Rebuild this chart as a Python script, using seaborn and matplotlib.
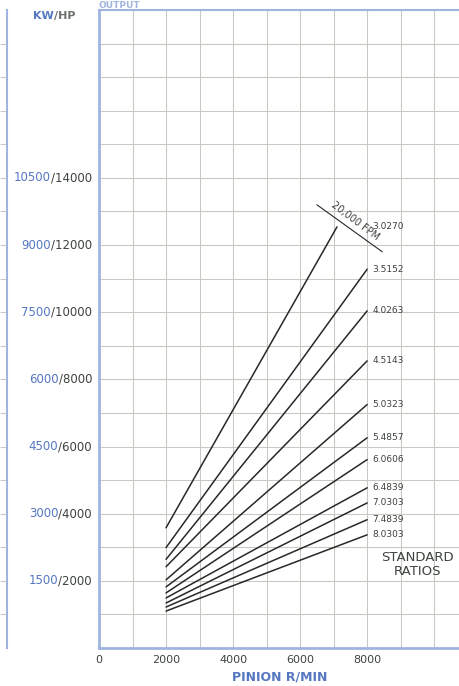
import numpy as np
import pandas as pd
import matplotlib
matplotlib.use('Agg')
import matplotlib.pyplot as plt
import seaborn as sns

# ratio lines (pinion r/min vs HP)
ratios = ['3.0270', '3.5152', '4.0263', '4.5143', '5.0323', '5.4857',
          '6.0606', '6.4839', '7.0303', '7.4839', '8.0303']
rpm_start = [2000, 2000, 2000, 2000, 2000, 2000, 2000, 2000, 2000, 2000, 2000]
rpm_end = [7100, 8000, 8000, 8000, 8000, 8000, 8000, 8000, 8000, 8000, 8000]
hp_start = [3580, 2990, 2640, 2420, 2030, 1820, 1640, 1490, 1340, 1220, 1100]
hp_end = [12540, 11280, 10040, 8550, 7250, 6260, 5610, 4770, 4320, 3820, 3370]

# 20,000 FPM limit segment
fpm_rpm = [6500, 8450]
fpm_hp = [13200, 11800]

# y axis labels (KW / HP)
kw_labels = ['1500', '3000', '4500', '6000', '7500', '9000', '10500']
hp_labels = ['2000', '4000', '6000', '8000', '10000', '12000', '14000']
hp_ticks = [2000, 4000, 6000, 8000, 10000, 12000, 14000]
x_labels = ['0', '2000', '4000', '6000', '8000']

blue = '#5577c2'
gray = '#3d433d'
line_color = '#262a26'
grid_color = '#c6cac0'
spine_blue = '#9fb4de'

sns.set_style('white')
plt.rcParams['font.family'] = ['DejaVu Sans']

rows = []
for r, x0, x1, y0, y1 in zip(ratios, rpm_start, rpm_end, hp_start, hp_end):
    rows.append({'ratio': r, 'rpm': x0, 'hp': y0})
    rows.append({'ratio': r, 'rpm': x1, 'hp': y1})
df = pd.DataFrame(rows)

fig = plt.figure(figsize=(4.6, 6.86), dpi=100)
ax = fig.add_axes([99/460, 38/686, 362/460, 638/686])

sns.lineplot(data=df, x='rpm', y='hp', hue='ratio', palette=[line_color]*len(ratios),
             legend=False, ax=ax, lw=1.1, estimator=None, sort=True)

ax.set_xlim(0, 10800)
ax.set_ylim(0, 19000)
ax.set_xticks(np.arange(0, 11000, 1000))
ax.set_xticklabels([str(v) if str(v) in x_labels else '' for v in range(0, 11000, 1000)])
ax.set_yticks(np.arange(0, 19001, 1000))
ax.set_yticklabels([])
ax.grid(True, color=grid_color, lw=0.75)
ax.tick_params(length=0, labelsize=8, labelcolor=gray)
ax.tick_params(axis='x', pad=5)
ax.set_ylabel('')
ax.set_xlabel('PINION R/MIN', color=blue, fontweight='bold', fontsize=9)
ax.xaxis.set_label_coords(0.5, -0.036)
for s in ['left', 'bottom']:
    ax.spines[s].set_color(spine_blue)
    ax.spines[s].set_linewidth(2)
ax.spines['top'].set_color(spine_blue)
ax.spines['top'].set_linewidth(1.5)
ax.spines['right'].set_visible(False)

# two colour y tick labels
for yv, kw, hp in zip(hp_ticks, kw_labels, hp_labels):
    t = ax.annotate('/' + hp, xy=(0, yv), xycoords=('axes fraction', 'data'),
                    xytext=(-5, 0), textcoords='offset points',
                    ha='right', va='center', fontsize=8.5, color=gray)
    ax.annotate(kw, xy=(0, 0.5), xycoords=t, ha='right', va='center',
                fontsize=8.5, color=blue)

# ratio labels
for r, y1 in zip(ratios, hp_end):
    ax.annotate(r, xy=(8000, y1), xytext=(4, 0), textcoords='offset points',
                ha='left', va='center', fontsize=6.5, color=gray)

ax.plot(fpm_rpm, fpm_hp, color=line_color, lw=0.8)
ax.annotate('20,000 FPM', xy=(np.mean(fpm_rpm), np.mean(fpm_hp)), xytext=(2, 2),
            textcoords='offset points', rotation=-37, rotation_mode='anchor',
            ha='center', va='bottom', fontsize=7, color=gray)

ax.text(9500, 2480, 'STANDARD\nRATIOS', ha='center', va='center',
        fontsize=9.5, linespacing=1.05, color=gray)

# KW/HP header
t = fig.text(54/460, 1 - 16/686, '/HP', ha='left', va='center',
             fontsize=8, fontweight='bold', color='#6a706a')
plt.annotate('KW', xy=(0, 0.5), xycoords=t, ha='right', va='center',
             fontsize=8, fontweight='bold', color=blue, annotation_clip=False)

# heading at the top (cut off in the source scan)
fig.text(99/460, 1 - 1/686, 'OUTPUT', ha='left', va='top', fontsize=6.5,
         fontweight='bold', color=spine_blue)

# edge of neighbouring panel on the left
ax0 = fig.add_axes([-0.05, 38/686, 0.05 + 7/460, 638/686])
ax0.set_facecolor('none')
ax0.set_ylim(0, 19000)
ax0.set_xticks([])
ax0.set_yticks(np.arange(1000, 19000, 1000))
ax0.tick_params(axis='y', left=False, right=True, labelleft=False, labelright=False,
                direction='in', length=5, color=grid_color)
for s in ['left', 'top', 'bottom']:
    ax0.spines[s].set_visible(False)
ax0.spines['right'].set_color(spine_blue)
ax0.spines['right'].set_linewidth(1.5)

fig.savefig('out.png', dpi=100)
